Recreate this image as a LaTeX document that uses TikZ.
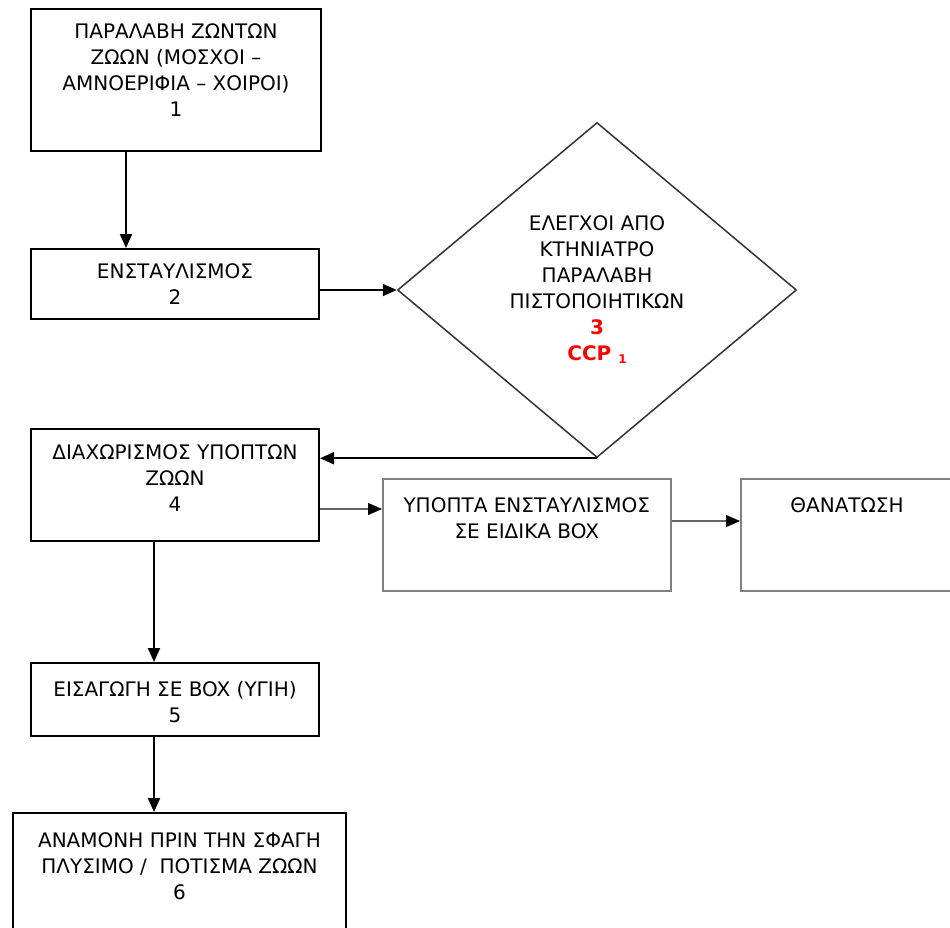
\documentclass[tikz,border=0pt]{standalone}
\usepackage{fontspec}
\setmainfont{DejaVu Sans}
\usetikzlibrary{positioning,shapes.geometric,arrows.meta}

\newcommand\ccpsub{{\fontsize{12}{12}\selectfont\raisebox{-3pt}{1}}}

\tikzset{
  box/.style={draw,line width=2pt,rectangle,inner sep=0pt,anchor=north west},
  greybox/.style={draw=black!50,line width=1.5pt,rectangle,inner sep=0pt,anchor=north west},
  boxtext/.style={align=center,inner sep=0pt,font=\fontsize{20}{26}\selectfont},
  flow/.style={line width=2pt,-{Triangle[length=14pt,width=12pt]}},
  greyflow/.style={draw=black!60,line width=1.2pt,-{Triangle[length=14pt,width=12pt,color=black]}},
}

\begin{document}
\begin{tikzpicture}[x=1pt,y=-1pt]
\useasboundingbox (0,0) rectangle (950,928);
\clip (0,0) rectangle (950,928);

% main column
\node[box,minimum width=290pt,minimum height=142pt] (paralavi) at (30,8) {};
\node[boxtext,below=16pt of paralavi.north] (paralavitxt) {ΠΑΡΑΛΑΒΗ ΖΩΝΤΩΝ\\ΖΩΩΝ (ΜΟΣΧΟΙ –\\ΑΜΝΟΕΡΙΦΙΑ – ΧΟΙΡΟΙ)\\1};

\node[box,minimum width=288pt,minimum height=70pt] (enstav) at (30,248) {};
\node[boxtext,below=15pt of enstav.north] (enstavtxt) {ΕΝΣΤΑΥΛΙΣΜΟΣ\\2};

\node[draw=black!80,diamond,line width=1.5pt,minimum width=399pt,minimum height=335pt,inner sep=0pt] (elegxoi) at (597,290) {};
\node[boxtext] (elegxoitxt) at (elegxoi.center) {ΕΛΕΓΧΟΙ ΑΠΟ\\ΚΤΗΝΙΑΤΡΟ\\ΠΑΡΑΛΑΒΗ\\ΠΙΣΤΟΠΟΙΗΤΙΚΩΝ\\\textcolor{red}{\bfseries 3}\\\textcolor{red}{\bfseries CCP \ccpsub}};

\node[box,minimum width=288pt,minimum height=112pt] (diaxor) at (30,428) {};
\node[boxtext,below=16pt of diaxor.north] (diaxortxt) {ΔΙΑΧΩΡΙΣΜΟΣ ΥΠΟΠΤΩΝ\\ΖΩΩΝ\\4};

\node[box,minimum width=288pt,minimum height=73pt] (eisag) at (30,662) {};
\node[boxtext,below=19pt of eisag.north] (eisagtxt) {ΕΙΣΑΓΩΓΗ ΣΕ BOX (ΥΓΙΗ)\\5};

\node[box,minimum width=333pt,minimum height=150pt] (anamoni) at (12,812) {};
\node[boxtext,below=20pt of anamoni.north] (anamonitxt) {ΑΝΑΜΟΝΗ ΠΡΙΝ ΤΗΝ ΣΦΑΓΗ\\ΠΛΥΣΙΜΟ /\ \ ΠΟΤΙΣΜΑ ΖΩΩΝ\\6};

% suspect branch
\node[greybox,minimum width=288pt,minimum height=112pt] (ypopta) at (382,478) {};
\node[boxtext,below=19pt of ypopta.north] (ypoptatxt) {ΥΠΟΠΤΑ ΕΝΣΤΑΥΛΙΣΜΟΣ\\ΣΕ ΕΙΔΙΚΑ BOX};

\node[greybox,minimum width=300pt,minimum height=112pt] (thanat) at (740,478) {};
\node[boxtext,anchor=north] (thanattxt) at (847,497) {ΘΑΝΑΤΩΣΗ};

% connectors
\draw[flow] ([xshift=-50pt]paralavi.south) -- ([xshift=-50pt]paralavi.south |- enstav.north);
\draw[flow] (enstav.east |- elegxoi.west) -- (elegxoi.west);
\draw[flow] (elegxoi.south) -- (elegxoi.south -| diaxor.east);
\coordinate (ypoptain) at ([yshift=-31pt]ypopta.north west);
\draw[greyflow] (diaxor.east |- ypoptain) -- (ypoptain);
\coordinate (thanatin) at ([yshift=-43pt]thanat.north west);
\draw[greyflow] (ypopta.east |- thanatin) -- (thanatin);
\draw[flow] ([xshift=-21pt]diaxor.south) -- ([xshift=-21pt]diaxor.south |- eisag.north);
\draw[flow] ([xshift=-21pt]eisag.south) -- ([xshift=-21pt]eisag.south |- anamoni.north);
\end{tikzpicture}
\end{document}
